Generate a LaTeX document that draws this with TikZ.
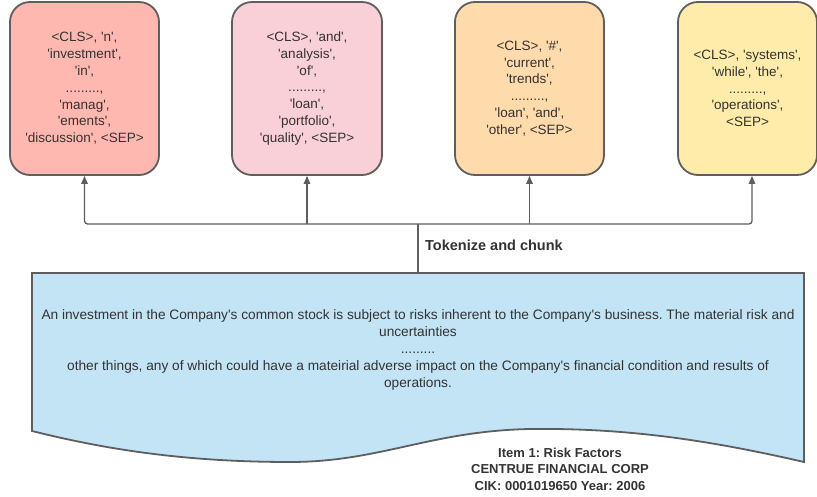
\documentclass[tikz,border=0pt]{standalone}
\usepackage{fontspec}
\newfontfamily\lib{Liberation Sans}
\usetikzlibrary{arrows.meta}
\definecolor{cA}{HTML}{FFB8AF}
\definecolor{cB}{HTML}{F9CFD8}
\definecolor{cC}{HTML}{FFDAAA}
\definecolor{cD}{HTML}{FFECAA}
\definecolor{cDoc}{HTML}{C2E4F5}
\definecolor{edgegray}{HTML}{5E5E5E}
\definecolor{txtgray}{HTML}{333333}
\begin{document}
\frenchspacing
\begin{tikzpicture}[x=1pt,y=-1pt,
  tokbox/.style={draw=edgegray, line width=1.8pt, rounded corners=20pt,
    minimum height=173pt, align=center, text=txtgray,
    font=\lib\fontsize{13.5}{16.8}\selectfont, inner sep=0pt},
  conn/.style={draw=edgegray, line width=1.3pt, rounded corners=3pt,
    -{Triangle[length=8pt,width=6.5pt]}},
  plainline/.style={draw=edgegray, line width=1.3pt},
  boldlbl/.style={text=txtgray, font=\lib\fontsize{13}{16.5}\selectfont\bfseries, align=center, inner sep=0pt}]
\useasboundingbox (0,0) rectangle (817,497);

% token boxes
\node[tokbox, fill=cA, minimum width=149pt] (b1) at (84.5,88.5)
  {<CLS>, 'n',\\'investment',\\'in',\\.........,\\'manag',\\'ements',\\'discussion', <SEP>};
\node[tokbox, fill=cB, minimum width=150pt] (b2) at (307,88.5)
  {<CLS>, 'and',\\'analysis',\\'of',\\.........,\\'loan',\\'portfolio',\\'quality', <SEP>};
\node[tokbox, fill=cC, minimum width=149pt] (b3) at (529.5,88.5)
  {<CLS>, '\#',\\'current',\\'trends',\\.........,\\'loan', 'and',\\'other', <SEP>};
\node[tokbox, fill=cD, minimum width=139pt] (b4) at (747.5,88.5)
  {<CLS>, 'systems',\\'while', 'the',\\.........,\\'operations',\\<SEP>};

% document shape
\draw[draw=edgegray, line width=1.8pt, fill=cDoc]
  (32,273) -- (804,273) -- (804,462)
  .. controls (700,438) and (620,428) .. (530,429)
  .. controls (430,431) and (380,462) .. (290,462)
  .. controls (180,462) and (100,448) .. (32,431) -- cycle;
\coordinate (doctop) at (418,273);
\coordinate (hub) at (418,224);

\node[text=txtgray, font=\lib\fontsize{13.7}{17}\selectfont, align=center, inner sep=0pt] (doctext) at (418,350)
  {An investment in the Company's common stock is subject to risks inherent to the Company's business. The material risk and\\
   uncertainties\\
   .........\\
   other things, any of which could have a mateirial adverse impact on the Company's financial condition and results of\\
   operations.};

\node[boldlbl] (meta) at (560,469)
  {Item 1: Risk Factors\\CENTRUE FINANCIAL CORP\\CIK: 0001019650 Year: 2006};

% connectors
\draw[plainline] (doctop) -- (hub);
\draw[conn] (hub) -| (b1.south);
\draw[conn] (hub) -| ([xshift=4.5pt]b4.south);
\draw[conn] (b2.south |- hub) -- (b2.south);
\draw[conn] (b3.south |- hub) -- (b3.south);

\node[text=txtgray, font=\lib\fontsize{14.5}{17}\selectfont\bfseries, anchor=west, inner sep=0pt] (tok) at (425,245) {Tokenize and chunk};
\end{tikzpicture}
\end{document}
